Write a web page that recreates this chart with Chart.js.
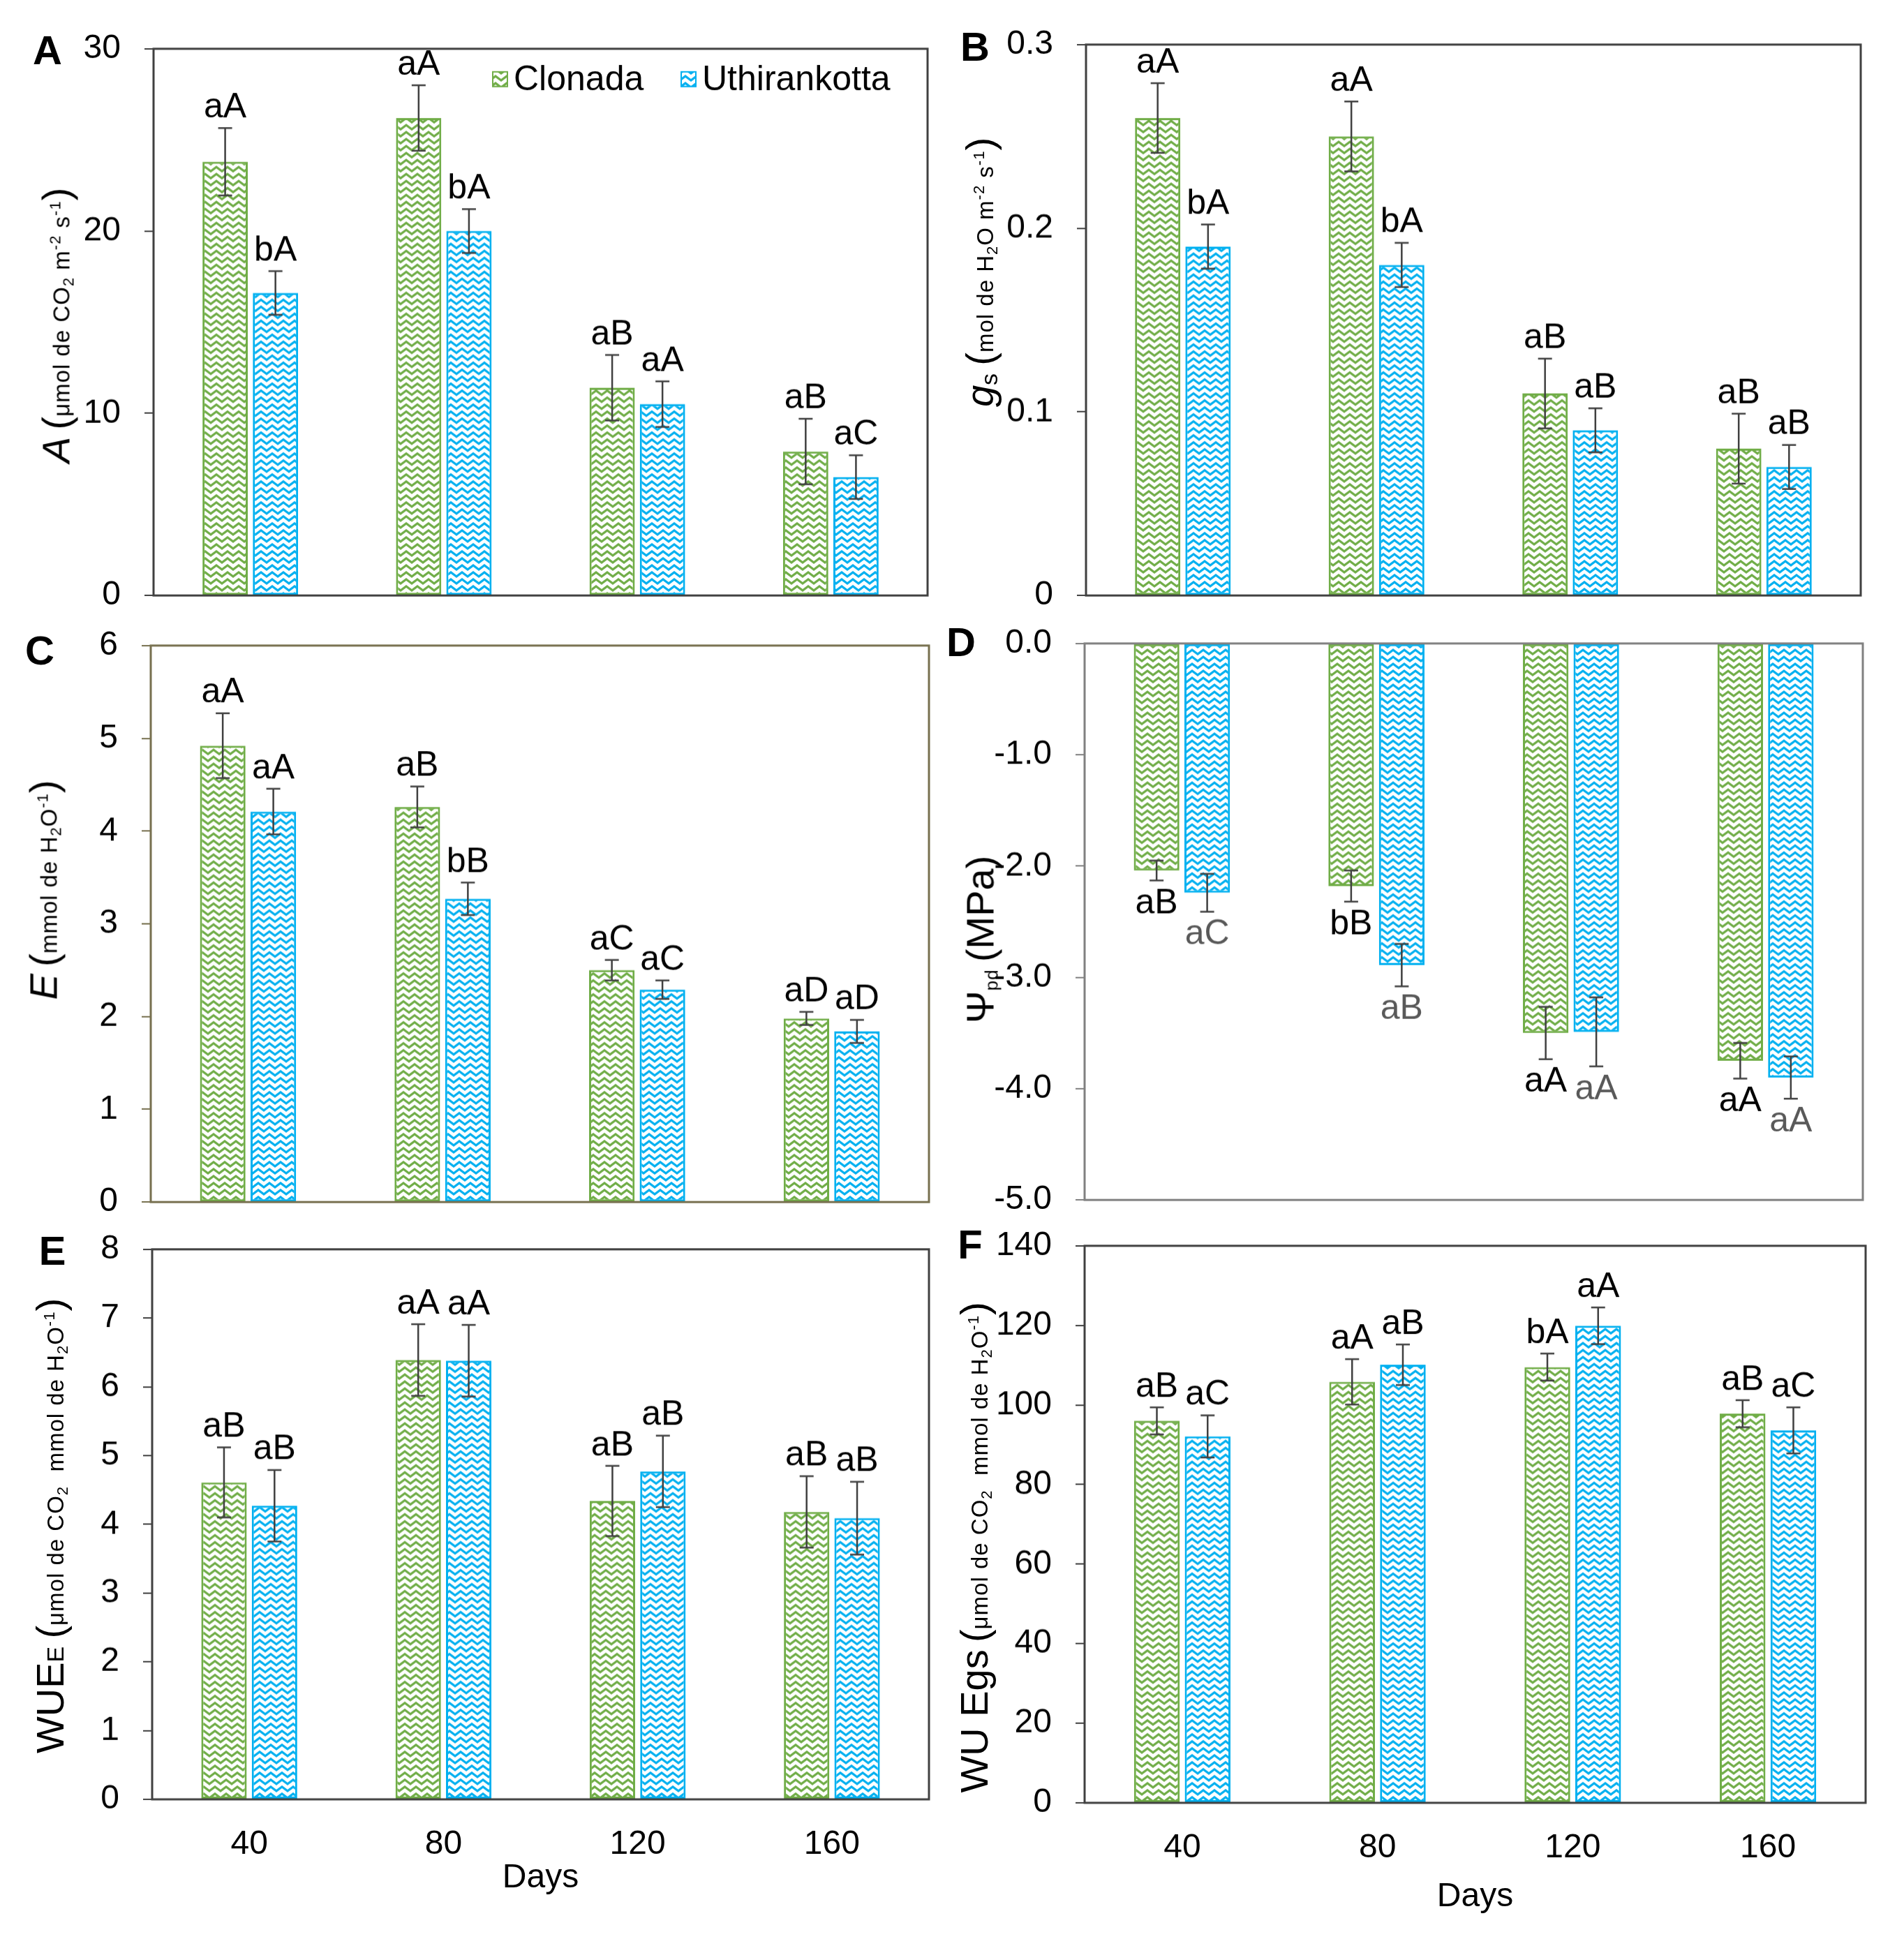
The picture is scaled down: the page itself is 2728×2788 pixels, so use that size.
<!DOCTYPE html>
<html>
<head>
<meta charset="utf-8">
<script src="https://cdn.jsdelivr.net/npm/chart.js@4.4.1/dist/chart.umd.min.js"></script>
<style>
  body { margin: 0; background: #fff; width: 2728px; height: 2788px; position: relative; overflow: hidden;
         font-family: 'Liberation Sans', Arial, sans-serif; color: #000; }
  .letter { position: absolute; font-weight: bold; font-size: 58px; transform: translate(-50%, -50%); }
  .ytitle { position: absolute; white-space: nowrap; font-size: 33px; letter-spacing: 1px;
            transform: translate(-50%, -50%) rotate(-90deg); }
  .ytitle .big { font-size: 56px; letter-spacing: 0; }
  .ytitle .mid { font-size: 34px; }
  .ytitle sub { font-size: 22px; vertical-align: -6px; }
  .ytitle sup { font-size: 22px; vertical-align: 13px; }
</style>
</head>
<body>
<script>
// Days of measurement
const days = ['40', '80', '120', '160'];
const seriesNames = ['Clonada', 'Uthirankotta'];

// A - net photosynthesis
const photoClonada = [23.8, 26.2, 11.4, 7.9];
const photoClonadaErr = [1.85, 1.8, 1.8, 1.8];
const photoUthir = [16.6, 20.0, 10.5, 6.5];
const photoUthirErr = [1.2, 1.2, 1.25, 1.2];
const photoLettersC = ['aA', 'aA', 'aB', 'aB'];
const photoLettersU = ['bA', 'bA', 'aA', 'aC'];

// B - stomatal conductance
const condClonada = [0.26, 0.25, 0.11, 0.08];
const condClonadaErr = [0.019, 0.019, 0.019, 0.019];
const condUthir = [0.19, 0.18, 0.09, 0.07];
const condUthirErr = [0.012, 0.012, 0.012, 0.012];
const condLettersC = ['aA', 'aA', 'aB', 'aB'];
const condLettersU = ['bA', 'bA', 'aB', 'aB'];

// C - transpiration
const transClonada = [4.92, 4.26, 2.5, 1.98];
const transClonadaErr = [0.35, 0.22, 0.11, 0.07];
const transUthir = [4.21, 3.27, 2.29, 1.84];
const transUthirErr = [0.245, 0.175, 0.1, 0.125];
const transLettersC = ['aA', 'aB', 'aC', 'aD'];
const transLettersU = ['aA', 'bB', 'aC', 'aD'];

// D - predawn water potential
const psiClonada = [-2.04, -2.18, -3.5, -3.75];
const psiClonadaErr = [0.09, 0.14, 0.235, 0.16];
const psiUthir = [-2.24, -2.89, -3.49, -3.9];
const psiUthirErr = [0.17, 0.19, 0.31, 0.19];
const psiLettersC = ['aB', 'bB', 'aA', 'aA'];
const psiLettersU = ['aC', 'aB', 'aA', 'aA'];

// E - WUE (A/E)
const wueEClonada = [4.61, 6.39, 4.34, 4.18];
const wueEClonadaErr = [0.51, 0.52, 0.51, 0.52];
const wueEUthir = [4.27, 6.38, 4.77, 4.09];
const wueEUthirErr = [0.52, 0.52, 0.52, 0.53];
const wueELettersC = ['aB', 'aA', 'aB', 'aB'];
const wueELettersU = ['aB', 'aA', 'aB', 'aB'];

// F - WUE (A/gs)
const wueGClonada = [96, 105.8, 109.5, 97.8];
const wueGClonadaErr = [3.4, 5.7, 3.4, 3.4];
const wueGUthir = [92.1, 110.1, 119.9, 93.6];
const wueGUthirErr = [5.3, 5.1, 4.6, 5.8];
const wueGLettersC = ['aB', 'aA', 'bA', 'aB'];
const wueGLettersU = ['aC', 'aB', 'aA', 'aC'];

const GREEN = '#70AD47';
const BLUE = '#00B0F0';
const FONT = "'Liberation Sans', Arial, sans-serif";
const YW = 150, PT = 40, PR = 20;

// Zigzag hatch like the Excel "wave" fill
function zigzag(color) {
  const c = document.createElement('canvas');
  c.width = 16; c.height = 10;
  const g = c.getContext('2d');
  g.fillStyle = '#fff';
  g.fillRect(0, 0, 16, 10);
  g.strokeStyle = color;
  g.lineWidth = 3.2;
  g.beginPath();
  for (const dy of [-10, 0, 10]) {
    g.moveTo(-8, 8 + dy);
    g.lineTo(0, 2 + dy);
    g.lineTo(8, 8 + dy);
    g.lineTo(16, 2 + dy);
    g.lineTo(24, 8 + dy);
  }
  g.stroke();
  return g.createPattern(c, 'repeat');
}
const greenFill = zigzag(GREEN);
const blueFill = zigzag(BLUE);

function addText(cls, x, y, html) {
  const d = document.createElement('div');
  d.className = cls;
  d.style.left = x + 'px';
  d.style.top = y + 'px';
  d.innerHTML = html;
  document.body.appendChild(d);
}

function chartConfig(p, xh) {
  const decorations = {
    id: 'decorations',
    afterDatasetsDraw(chart) {
      const { ctx, chartArea: a, scales: { y } } = chart;
      ctx.save();
      ctx.strokeStyle = p.frame;
      ctx.lineWidth = 3;
      ctx.strokeRect(a.left, a.top, a.right - a.left, a.bottom - a.top);

      ctx.font = `50px ${FONT}`;
      ctx.textAlign = 'center';
      const sets = [[p.c, p.ce, p.cl, '#000'], [p.u, p.ue, p.ul, p.uColor || '#000']];
      sets.forEach(([vals, errs, lets, col], di) => {
        chart.getDatasetMeta(di).data.forEach((bar, i) => {
          const v = vals[i], e = errs[i];
          const y1 = y.getPixelForValue(v + e), y2 = y.getPixelForValue(v - e);
          ctx.strokeStyle = '#404040';
          ctx.lineWidth = 2.5;
          ctx.beginPath();
          ctx.moveTo(bar.x, y1); ctx.lineTo(bar.x, y2);
          ctx.moveTo(bar.x - 10, y1); ctx.lineTo(bar.x + 10, y1);
          ctx.moveTo(bar.x - 10, y2); ctx.lineTo(bar.x + 10, y2);
          ctx.stroke();
          ctx.fillStyle = col;
          if (v >= 0) {
            ctx.textBaseline = 'bottom';
            ctx.fillText(lets[i], bar.x, y1 - 4);
          } else {
            ctx.textBaseline = 'top';
            ctx.fillText(lets[i], bar.x, y2 + 8);
          }
        });
      });

      // Legend inside panel A
      if (p.legend) {
        ctx.font = `50px ${FONT}`;
        ctx.textAlign = 'left';
        ctx.textBaseline = 'middle';
        const items = [[greenFill, GREEN, a.left + 486, seriesNames[0]], [blueFill, BLUE, a.left + 756, seriesNames[1]]];
        items.forEach(([fill, col, lx, name]) => {
          const ly = a.top + 33;
          ctx.fillStyle = fill;
          ctx.fillRect(lx, ly, 21, 21);
          ctx.strokeStyle = col;
          ctx.lineWidth = 2;
          ctx.strokeRect(lx, ly, 21, 21);
          ctx.fillStyle = '#000';
          ctx.fillText(name, lx + 30, ly + 12);
        });
      }
      ctx.restore();
    }
  };

  return {
    type: 'bar',
    data: {
      labels: days,
      datasets: [{
        label: seriesNames[0],
        data: p.c,
        backgroundColor: greenFill,
        borderColor: GREEN,
        borderWidth: 3,
        borderSkipped: false,
        categoryPercentage: 0.52,
        barPercentage: 0.9
      }, {
        label: seriesNames[1],
        data: p.u,
        backgroundColor: blueFill,
        borderColor: BLUE,
        borderWidth: 3,
        borderSkipped: false,
        categoryPercentage: 0.52,
        barPercentage: 0.9
      }]
    },
    options: {
      responsive: false,
      maintainAspectRatio: false,
      animation: false,
      devicePixelRatio: 1,
      layout: { padding: { left: 0, right: PR, top: PT, bottom: 0 } },
      scales: {
        x: {
          ticks: { display: !!p.showX, color: '#000', font: { size: 48, family: FONT }, padding: 36 },
          grid: { display: false, drawTicks: false },
          border: { display: false },
          title: {
            display: !!p.showX, text: 'Days', color: '#000',
            font: { size: 48, family: FONT }, padding: { top: 0, bottom: p.daysPad || 0 }
          },
          afterFit: s => { s.height = xh; }
        },
        y: {
          min: p.min,
          max: p.max,
          ticks: {
            stepSize: p.step, color: '#000', padding: 34,
            font: { size: 48, family: FONT },
            callback: p.fmt
          },
          grid: { display: true, drawOnChartArea: false, drawTicks: true, tickLength: 13, color: p.frame, lineWidth: 2 },
          border: { display: false },
          afterFit: s => { s.width = YW; }
        }
      },
      plugins: {
        legend: { display: false },
        tooltip: { enabled: false }
      }
    },
    plugins: [decorations]
  };
}

// Build once, measure where Chart.js put the plot area, then rebuild so it lands on p.box
function makePanel(p) {
  const xh = p.showX ? 170 : 40;
  const plotW = p.box.R - p.box.L, plotH = p.box.B - p.box.T;
  let w = plotW + YW + PR;
  let h = plotH + PT + xh;
  const cv = document.createElement('canvas');
  cv.width = w; cv.height = h;
  cv.style.cssText = `position:absolute;width:${w}px;height:${h}px`;
  document.body.appendChild(cv);
  let chart = new Chart(cv, chartConfig(p, xh));
  const a = chart.chartArea;
  const offL = a.left, offT = a.top;
  w += plotW - (a.right - a.left);
  h += plotH - (a.bottom - a.top);
  chart.destroy();

  cv.width = w; cv.height = h;
  cv.style.cssText = `position:absolute;left:${p.box.L - offL}px;top:${p.box.T - offT}px;width:${w}px;height:${h}px`;
  chart = new Chart(cv, chartConfig(p, xh));
}

const intFmt = v => String(Math.round(v));

makePanel({
  box: { L: 220, R: 1329, T: 70, B: 853 }, frame: '#404040',
  c: photoClonada, ce: photoClonadaErr, cl: photoLettersC,
  u: photoUthir, ue: photoUthirErr, ul: photoLettersU,
  min: 0, max: 30, step: 10, fmt: intFmt, legend: true
});
makePanel({
  box: { L: 1556, R: 2666, T: 64, B: 853 }, frame: '#404040',
  c: condClonada, ce: condClonadaErr, cl: condLettersC,
  u: condUthir, ue: condUthirErr, ul: condLettersU,
  min: 0, max: 0.3, step: 0.1, fmt: v => (Math.abs(v) < 1e-9 ? '0' : v.toFixed(1))
});
makePanel({
  box: { L: 216, R: 1331, T: 925, B: 1722 }, frame: '#77704F',
  c: transClonada, ce: transClonadaErr, cl: transLettersC,
  u: transUthir, ue: transUthirErr, ul: transLettersU,
  min: 0, max: 6, step: 1, fmt: intFmt
});
makePanel({
  box: { L: 1554, R: 2669, T: 922, B: 1719 }, frame: '#808080',
  c: psiClonada, ce: psiClonadaErr, cl: psiLettersC,
  u: psiUthir, ue: psiUthirErr, ul: psiLettersU, uColor: '#595959',
  min: -5, max: 0, step: 1, fmt: v => (Math.abs(v) < 1e-9 ? '0.0' : v.toFixed(1))
});
makePanel({
  box: { L: 218, R: 1331, T: 1790, B: 2578 }, frame: '#404040',
  c: wueEClonada, ce: wueEClonadaErr, cl: wueELettersC,
  u: wueEUthir, ue: wueEUthirErr, ul: wueELettersU,
  min: 0, max: 8, step: 1, fmt: intFmt, showX: true, daysPad: 28
});
makePanel({
  box: { L: 1554, R: 2673, T: 1785, B: 2583 }, frame: '#404040',
  c: wueGClonada, ce: wueGClonadaErr, cl: wueGLettersC,
  u: wueGUthir, ue: wueGUthirErr, ul: wueGLettersU,
  min: 0, max: 140, step: 20, fmt: intFmt, showX: true, daysPad: 6
});

// Panel letters
addText('letter', 68, 71, 'A');
addText('letter', 1397, 66, 'B');
addText('letter', 57, 931, 'C');
addText('letter', 1377, 919, 'D');
addText('letter', 75, 1791, 'E');
addText('letter', 1390, 1782, 'F');

// Axis titles
addText('ytitle', 80, 466, '<i class="big">A</i> <span class="big">(</span>μmol de CO<sub>2</sub> m<sup>-2</sup> s<sup>-1</sup><span class="big">)</span>');
addText('ytitle', 1404, 390, '<i class="big">g</i><sub class="mid">s</sub> <span class="big">(</span>mol de H<sub>2</sub>O m<sup>-2</sup> s<sup>-1</sup><span class="big">)</span>');
addText('ytitle', 62, 1275, '<i class="big">E</i> <span class="big">(</span>mmol de H<sub>2</sub>O<sup>-1</sup><span class="big">)</span>');
addText('ytitle', 1404, 1346, '<span class="big">Ψ</span><sub style="font-size:26px">pd</sub> <span class="big">(MPa)</span>');
addText('ytitle', 71, 2186, '<span class="big">WUE</span><span class="mid">E</span> <span class="big">(</span>μmol de CO<sub>2</sub>&nbsp; mmol de H<sub>2</sub>O<sup>-1</sup><span class="big">)</span>');
addText('ytitle', 1395, 2217, '<span class="big">WU Egs</span> <span class="big">(</span>μmol de CO<sub>2</sub>&nbsp; mmol de H<sub>2</sub>O<sup>-1</sup><span class="big">)</span>');
</script>
</body>
</html>
